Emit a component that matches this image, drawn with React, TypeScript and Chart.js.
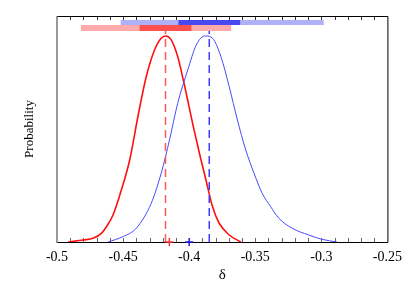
import React, { useEffect, useRef } from "react";
import { Chart, registerables } from "chart.js";

Chart.register(...registerables);

// Posterior curves (x = δ, y = normalised probability)
const redX = [-0.4915, -0.4802, -0.4727, -0.4664, -0.4626, -0.4576, -0.4513, -0.445, -0.4388, -0.4325, -0.4262, -0.4212, -0.4179, -0.4136, -0.4087, -0.4036, -0.3974, -0.3923, -0.3873, -0.3823, -0.3773, -0.3697, -0.3609];
const redY = [0.0, 0.01, 0.018, 0.042, 0.074, 0.131, 0.252, 0.398, 0.608, 0.802, 0.932, 0.989, 1.0, 0.981, 0.9, 0.762, 0.576, 0.432, 0.301, 0.171, 0.091, 0.034, 0.0];

const blueX = [-0.4614, -0.4501, -0.44, -0.4287, -0.4212, -0.4149, -0.4087, -0.4011, -0.3948, -0.3898, -0.3873, -0.3823, -0.376, -0.3697, -0.3635, -0.3572, -0.3509, -0.3447, -0.3383, -0.3321, -0.3221, -0.3095, -0.2995, -0.2882];
const blueY = [0.0, 0.026, 0.067, 0.188, 0.333, 0.495, 0.673, 0.835, 0.954, 0.997, 1.0, 0.989, 0.9, 0.754, 0.592, 0.447, 0.333, 0.236, 0.171, 0.115, 0.067, 0.034, 0.013, 0.0];

// Credible intervals [low, high]
const red95 = [-0.4819, -0.3682];
const red68 = [-0.4375, -0.3983];
const blue95 = [-0.4518, -0.2982];
const blue68 = [-0.4081, -0.3614];

// Medians and reference markers
const redMedian = -0.4179;
const blueMedian = -0.3848;
const redMarker = -0.415;
const blueMarker = -0.4;

// Axis
const xTickValues = [-0.5, -0.45, -0.4, -0.35, -0.3, -0.25];
const xTickLabels = ["-0.5", "-0.45", "-0.4", "-0.35", "-0.3", "-0.25"];
const xMin = -0.5;
const xMax = -0.25;
const minorStep = 0.01;
const yMax = 1.097;

const SERIF = "'Liberation Serif', 'Times New Roman', serif";

const BLUE_BAR_Y = 1.0655;
const RED_BAR_Y = 1.0388;
const MEDIAN_TOP = 1.024;

const framePlugin = {
  id: "frame",
  beforeDatasetsDraw(chart: any) {
    const { ctx, chartArea: a, scales } = chart;
    const x = scales.x;
    ctx.save();
    ctx.lineWidth = 1;
    const n = Math.round((xMax - xMin) / minorStep);
    for (let i = 1; i < n; i++) {
      const v = xMin + i * minorStep;
      const px = Math.round(x.getPixelForValue(v)) + 0.5;
      ctx.strokeStyle = "#666";
      ctx.beginPath();
      ctx.moveTo(px, a.bottom);
      ctx.lineTo(px, a.bottom - 4);
      ctx.stroke();
      ctx.strokeStyle = "#333";
      ctx.beginPath();
      ctx.moveTo(px, a.top);
      ctx.lineTo(px, a.top + 4);
      ctx.stroke();
    }
    ctx.strokeStyle = "#000";
    ctx.beginPath();
    ctx.moveTo(a.left, a.top + 0.5);
    ctx.lineTo(a.right + 0.5, a.top + 0.5);
    ctx.lineTo(a.right + 0.5, a.bottom + 0.5);
    ctx.lineTo(a.left, a.bottom + 0.5);
    ctx.stroke();
    ctx.strokeStyle = "#777";
    ctx.lineWidth = 1.5;
    ctx.beginPath();
    ctx.moveTo(a.left, a.top);
    ctx.lineTo(a.left, a.bottom + 1);
    ctx.stroke();
    ctx.restore();
  },
};

const pts = (xs: number[], ys: number[]) => xs.map((v, i) => ({ x: v, y: ys[i] }));
const seg = (r: number[], y: number) => [
  { x: r[0], y },
  { x: r[1], y },
];

export default function App() {
  const ref = useRef<HTMLCanvasElement>(null);
  useEffect(() => {
    if (!ref.current) return;
    const chart = new Chart(ref.current, {
      type: "line",
      data: {
        datasets: [
          { data: seg(blue95, BLUE_BAR_Y), borderColor: "#b0b0f8", borderWidth: 5, pointRadius: 0, order: 20 },
          { data: seg(blue68, BLUE_BAR_Y), borderColor: "#4848f0", borderWidth: 5, pointRadius: 0, order: 19 },
          { data: seg(red95, RED_BAR_Y), borderColor: "#ffaaaa", borderWidth: 6, pointRadius: 0, order: 18 },
          { data: seg(red68, RED_BAR_Y), borderColor: "#ff5050", borderWidth: 6, pointRadius: 0, order: 17 },
          {
            data: pts(redX, redY),
            borderColor: "#ff1010",
            borderWidth: 1.6,
            pointRadius: 0,
            cubicInterpolationMode: "monotone",
            order: 12,
          },
          {
            data: pts(blueX, blueY),
            borderColor: "#4a4aff",
            borderWidth: 1,
            pointRadius: 0,
            cubicInterpolationMode: "monotone",
            order: 11,
          },
          {
            data: [
              { x: redMedian, y: 0 },
              { x: redMedian, y: MEDIAN_TOP },
            ],
            borderColor: "#ff5a5a",
            borderWidth: 1.5,
            borderDash: [8, 5],
            pointRadius: 0,
            order: 6,
          },
          {
            data: [
              { x: blueMedian, y: 0 },
              { x: blueMedian, y: MEDIAN_TOP },
            ],
            borderColor: "#3c3cff",
            borderWidth: 1.5,
            borderDash: [8, 5],
            pointRadius: 0,
            order: 5,
          },
          {
            data: [{ x: redMarker, y: 0 }],
            showLine: false,
            pointStyle: "cross",
            pointRadius: 4,
            pointBorderWidth: 1.5,
            pointBorderColor: "#ff3030",
            borderColor: "#ff3030",
            clip: false,
            order: 2,
          },
          {
            data: [{ x: blueMarker, y: 0 }],
            showLine: false,
            pointStyle: "cross",
            pointRadius: 4,
            pointBorderWidth: 1.5,
            pointBorderColor: "#2020e0",
            borderColor: "#2020e0",
            clip: false,
            order: 1,
          },
        ] as any,
      },
      options: {
        animation: false,
        responsive: false,
        devicePixelRatio: 1,
        layout: { padding: { left: 0, top: 16, right: 20, bottom: 0 } },
        plugins: { legend: { display: false }, tooltip: { enabled: false } },
        scales: {
          x: {
            type: "linear",
            min: xMin,
            max: xMax,
            grid: { display: false, drawTicks: false },
            border: { display: false },
            afterBuildTicks: (s: any) => {
              s.ticks = xTickValues.map((v) => ({ value: v }));
            },
            afterFit: (s: any) => {
              s.height = 44;
            },
            ticks: {
              padding: 7,
              color: "#000",
              font: { family: SERIF, size: 14 },
              callback: (v: any) => {
                const i = xTickValues.findIndex((t) => Math.abs(t - v) < 1e-9);
                return i >= 0 ? xTickLabels[i] : "";
              },
            },
            title: {
              display: true,
              text: "δ",
              color: "#000",
              font: { family: SERIF, size: 15 },
              padding: { top: 0, bottom: 2 },
            },
          },
          y: {
            type: "linear",
            min: 0,
            max: yMax,
            grid: { display: false, drawTicks: false },
            border: { display: false },
            ticks: { display: false },
            afterFit: (s: any) => {
              s.width = 57;
            },
            title: {
              display: true,
              text: "Probability",
              color: "#000",
              font: { family: SERIF, size: 13 },
              padding: { top: 22, bottom: 0 },
            },
          },
        },
      } as any,
      plugins: [framePlugin],
    });
    return () => chart.destroy();
  }, []);
  return (
    <div style={{ position: "absolute", left: 0, top: 0, width: 409, height: 286, background: "#fff" }}>
      <canvas ref={ref} width={409} height={286} />
    </div>
  );
}
